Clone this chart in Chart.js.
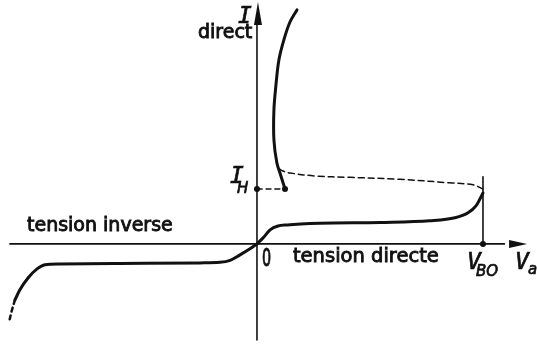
<!DOCTYPE html>
<html>
<head>
<meta charset="utf-8">
<script src="https://cdn.jsdelivr.net/npm/chart.js@4.4.0/dist/chart.umd.min.js"></script>
<style>
  html, body { margin: 0; padding: 0; background: #fff; }
  canvas { display: block; }
</style>
</head>
<body>
<canvas id="thyristor" width="537" height="344"></canvas>
<script>
// Thyristor characteristic I = f(Va), arbitrary units (V_BO = 100, I_H = 20)
const V_BO = 100;
const I_H = 20;

// forward blocking branch, origin up to the breakover point
const blockV = [0, 2.7, 5.8, 9.3, 13.3, 27.9, 54.4, 76.5, 87.6, 93.4, 96.9, 98.7, 100];
const blockI = [0, 2.2, 5.1, 6.5, 6.9, 7.5, 7.8, 8.4, 9.5, 11.3, 13.8, 16.4, 18.5];

// negative resistance region (dashed), from V_BO back to the on-state branch
const negV = [100, 95.6, 85.4, 63.3, 41.2, 25.7, 14.6, 11.5, 9.3];
const negI = [20, 21.5, 22.2, 23.5, 24.2, 24.7, 25.8, 26.5, 27.6];

// conducting branch, starting at the holding current
const onV = [12.4, 10.6, 8.8, 7.5, 7.5, 8.4, 9.7, 11.9, 14.6, 17.7];
const onI = [20, 24.7, 29.5, 37.8, 48.7, 57.8, 66.9, 74.2, 80.7, 85.1];

// reverse blocking branch and start of avalanche
const revV = [0, -3.1, -7.5, -11.9, -16.4, -25.2, -60.6, -87.2, -93.8, -97.3, -101.3, -104.9, -107.1];
const revI = [0, -1.8, -4, -6, -6.7, -6.9, -7.1, -7.3, -7.6, -9.1, -12.4, -16.7, -20.4];
const avalV = [-107.1, -108.4, -109.7];
const avalI = [-20.4, -24, -28.4];

// axis extents
const axisV = [-109.3, 119.5];
const axisI = [-34.9, 88];

const pts = (xs, ys) => xs.map((x, i) => ({ x: x, y: ys[i] }));

const INK = '#111';
const FONT = '"DejaVu Sans", sans-serif';
const ITALIC = 'oblique 23px "DejaVu Sans Mono", monospace';

const curve = (data, width, dash, mode) => ({
  data: data,
  showLine: true,
  borderColor: INK,
  borderWidth: width,
  borderDash: dash || [],
  pointRadius: 0,
  tension: 0.35,
  cubicInterpolationMode: mode || 'default',
  borderCapStyle: 'round',
  borderJoinStyle: 'round'
});

// lettering is drawn filled and lightly stroked to get the pen weight
function letter(ctx, text, x, y) {
  ctx.fillText(text, x, y);
  ctx.strokeText(text, x, y);
}

// arrowheads, markers and lettering
const annotate = {
  id: 'annotate',
  afterDatasetsDraw(chart) {
    const { ctx, scales: { x, y } } = chart;
    const x0 = x.getPixelForValue(0);
    const y0 = y.getPixelForValue(0);
    const xTip = x.getPixelForValue(axisV[1]);
    const yTip = y.getPixelForValue(axisI[1]);
    const xBO = x.getPixelForValue(V_BO);
    const yH = y.getPixelForValue(I_H);
    const xH = x.getPixelForValue(onV[0]);

    ctx.save();
    ctx.fillStyle = INK;
    ctx.strokeStyle = INK;

    // arrowheads
    ctx.beginPath();
    ctx.moveTo(x0 + 1, yTip);
    ctx.lineTo(x0 + 5, yTip + 23);
    ctx.lineTo(x0 - 3, yTip + 23);
    ctx.closePath();
    ctx.fill();
    ctx.beginPath();
    ctx.moveTo(xTip, y0);
    ctx.lineTo(xTip - 18, y0 - 4);
    ctx.lineTo(xTip - 18, y0 + 4);
    ctx.closePath();
    ctx.fill();

    // markers
    [[x0, yH], [xH, yH], [xBO, y0]].forEach(([px, py]) => {
      ctx.beginPath();
      ctx.arc(px, py, 3, 0, Math.PI * 2);
      ctx.fill();
    });

    // axis texts
    ctx.textBaseline = 'alphabetic';
    ctx.lineWidth = 0.9;
    ctx.font = '19px ' + FONT;
    letter(ctx, 'tension inverse', 27, y0 - 13);
    ctx.font = '19.5px ' + FONT;
    letter(ctx, 'tension directe', x0 + 36, y0 + 18);
    ctx.font = '19px ' + FONT;
    letter(ctx, 'direct', x0 - 59, 38);

    ctx.save();
    ctx.translate(x0 + 5, y0 + 22);
    ctx.scale(0.6, 1);
    ctx.font = '24px ' + FONT;
    letter(ctx, '0', 0, 0);
    ctx.restore();

    ctx.lineWidth = 0.7;
    ctx.font = ITALIC;
    letter(ctx, 'I', x0 - 19, 23);
    letter(ctx, 'I', x0 - 27, yH - 6);
    letter(ctx, 'V', xBO - 16, y0 + 25);
    letter(ctx, 'V', xTip - 12, y0 + 25);

    ctx.font = 'oblique 15px ' + FONT;
    letter(ctx, 'H', x0 - 20, yH + 4);
    letter(ctx, 'BO', xBO - 7, y0 + 32);
    letter(ctx, 'a', xTip + 1, y0 + 30);
    ctx.restore();
  }
};

new Chart(document.getElementById('thyristor'), {
  type: 'scatter',
  data: {
    datasets: [
      // axes
      curve([{ x: axisV[0], y: 0 }, { x: axisV[1] - 10, y: 0 }], 1.6),
      curve([{ x: 0, y: axisI[0] }, { x: 0, y: axisI[1] - 6 }], 1.6),
      // V_BO guide and holding current guide
      curve([{ x: V_BO, y: 0 }, { x: V_BO, y: 24.4 }], 1.6),
      curve([{ x: 0, y: I_H }, { x: onV[0], y: I_H }], 1.5, [5, 4]),
      // characteristic
      curve(pts(blockV, blockI), 3, null, 'monotone'),
      curve(pts(negV, negI), 1.5, [6, 4]),
      curve(pts(onV, onI), 3),
      curve(pts(revV, revI), 3, null, 'monotone'),
      curve(pts(avalV, avalI), 2.5, [4, 4])
    ]
  },
  options: {
    responsive: false,
    animation: false,
    clip: false,
    layout: { padding: 0 },
    plugins: { legend: { display: false }, tooltip: { enabled: false } },
    scales: {
      x: { type: 'linear', display: false, min: -113.7, max: 123.9 },
      y: { type: 'linear', display: false, min: -36.4, max: 88.7 }
    }
  },
  plugins: [annotate]
});
</script>
</body>
</html>
